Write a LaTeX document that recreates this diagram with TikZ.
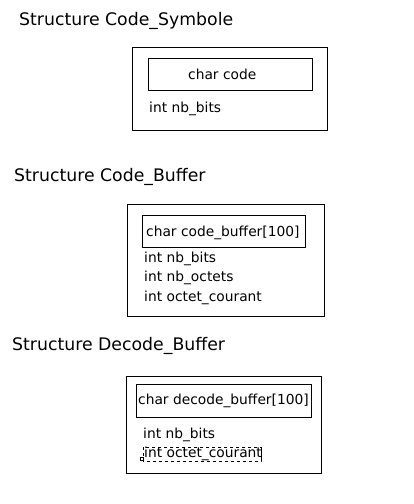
\documentclass[tikz,border=0pt]{standalone}
\usepackage{fontspec}
\setmainfont{DejaVu Sans}
\begin{document}
\begin{tikzpicture}[x=1pt, y=-1pt,
		    title/.style={anchor=base west, inner sep=0pt, font=\fontsize{17.3}{20}\selectfont},
		    outer/.style={draw, line width=1pt, anchor=north west, inner sep=0pt},
		    member/.style={anchor=base west, inner sep=0pt, font=\fontsize{13.8}{16}\selectfont}]
	\useasboundingbox (0, 0) rectangle (414, 504);
	% Code_Symbole
	\node[title] (t1) at (19, 25) {Structure Code\_Symbole};
	\node[outer, minimum width=195pt, minimum height=83pt] (s1) at (132, 47) {};
	\node[outer, minimum width=164pt, minimum height=32pt] (c1) at (148, 58) {};
	\node[member] (c1t) at (188, 79) {char code};
	\node[member] (s1b) at (149, 112) {int nb\_bits};
	% Code_Buffer
	\node[title] (t2) at (14, 181) {Structure Code\_Buffer};
	\node[outer, minimum width=197pt, minimum height=112pt] (s2) at (127, 204) {};
	\node[outer, minimum width=163pt, minimum height=32pt] (c2) at (142, 215) {};
	\node[member] (c2t) at (146, 236) {char code\_buffer[100]};
	\node[member] (s2b) at (144, 262) {int nb\_bits};
	\node[member] (s2o) at (144, 281) {int nb\_octets};
	\node[member] (s2c) at (144, 301) {int octet\_courant};
	% Decode_Buffer
	\node[title] (t3) at (12, 350) {Structure Decode\_Buffer};
	\node[outer, minimum width=195pt, minimum height=97pt] (s3) at (126, 376) {};
	\node[outer, minimum width=175pt, minimum height=33pt] (c3) at (136, 384) {};
	\node[member] (c3t) at (138, 404) {char decode\_buffer[100]};
	\node[member] (s3b) at (143, 438) {int nb\_bits};
	\node[member] (s3c) at (144, 457) {int octet\_courant};
	\draw[dashed, line width=0.6pt] (143, 447) rectangle (261, 461);
	\draw[line width=0.8pt] (261, 447) -- (261, 461);
	\node[draw, line width=0.6pt, inner sep=0pt, minimum size=3pt] (grip) at (142, 459) {};
\end{tikzpicture}
\end{document}
